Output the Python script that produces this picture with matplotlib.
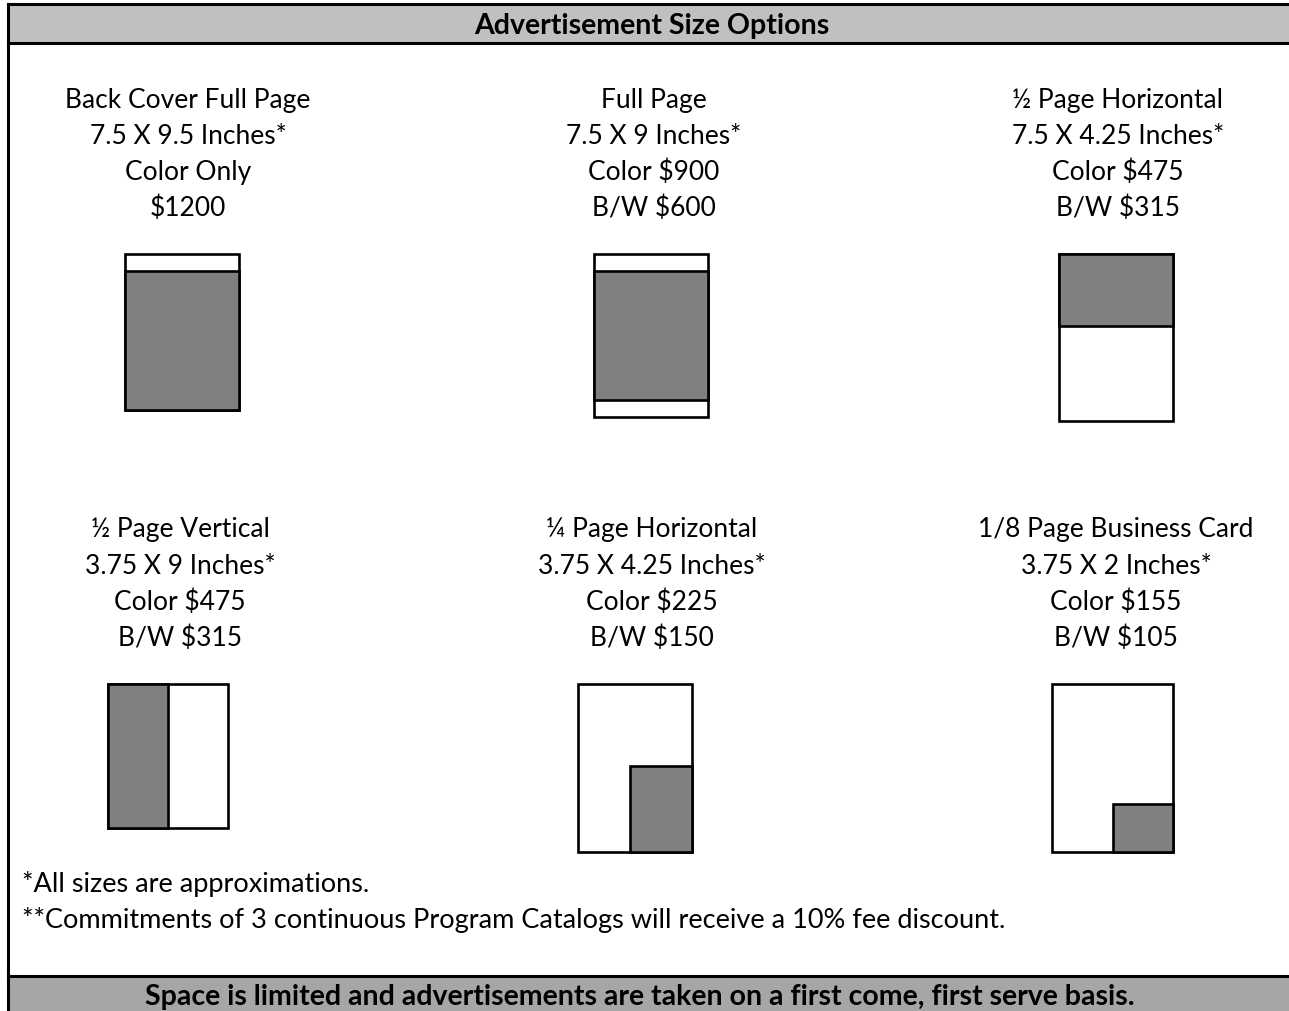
import matplotlib.pyplot as plt
from matplotlib.patches import Rectangle

plt.rcParams['font.family'] = ['Lato', 'DejaVu Sans']

title = 'Advertisement Size Options'
footer = 'Space is limited and advertisements are taken on a first come, first serve basis.'
notes = ['*All sizes are approximations.',
         '**Commitments of 3 continuous Program Catalogs will receive a 10% fee discount.']

# ad options, row by row
names = ['Back Cover Full Page', 'Full Page', '\u00bd Page Horizontal',
         '\u00bd Page Vertical', '\u00bc Page Horizontal', '1/8 Page Business Card']
sizes = ['7.5 X 9.5 Inches*', '7.5 X 9 Inches*', '7.5 X 4.25 Inches*',
         '3.75 X 9 Inches*', '3.75 X 4.25 Inches*', '3.75 X 2 Inches*']
color_price = ['Color Only', 'Color $900', 'Color $475',
               'Color $475', 'Color $225', 'Color $155']
bw_price = ['$1200', 'B/W $600', 'B/W $315',
            'B/W $315', 'B/W $150', 'B/W $105']

# page sketch (x0, y0, x1, y1) and shaded ad area, in picture pixels
pages = [(125, 255, 239, 411), (594, 255, 708, 418), (1059, 255, 1173, 422),
         (108, 685, 228, 829), (578, 685, 692, 853), (1052, 685, 1173, 853)]
ads = [(125, 272, 239, 411), (594, 272, 708, 401), (1059, 255, 1173, 327),
       (108, 685, 168, 829), (630, 767, 692, 853), (1113, 805, 1173, 853)]

W, H = 1289, 1012
fig = plt.figure(figsize=(W / 100, H / 100), dpi=100)
ax = fig.add_axes([0, 0, 1, 1])
ax.set_xlim(0, W)
ax.set_ylim(H, 0)
ax.axis('off')

lw = 2.2
# header and footer bands
ax.add_patch(Rectangle((8, 5), W - 8, 39, facecolor='#c0c0c0', edgecolor='none'))
ax.add_patch(Rectangle((8, 977), W - 8, H - 977, facecolor='#a6a6a6', edgecolor='none'))
ax.plot([8, W], [5, 5], color='black', lw=lw)
ax.plot([8, W], [44, 44], color='black', lw=lw)
ax.plot([8, W], [977, 977], color='black', lw=lw)
ax.plot([8, 8], [5, H], color='black', lw=lw)

ax.text(652, 26, title, ha='center', va='center', fontsize=20.5, fontweight='bold')
ax.text(640, 997, footer, ha='center', va='center', fontsize=20.5, fontweight='bold')
for i, n in enumerate(notes):
    ax.text(22, 884 + 36 * i, n, ha='left', va='center', fontsize=19.5)

col_x = [188, 654, 1118, 180, 652, 1116]
row_y = [100, 100, 100, 530, 530, 530]
for i in range(6):
    lines = [names[i], sizes[i], color_price[i], bw_price[i]]
    for j, s in enumerate(lines):
        ax.text(col_x[i], row_y[i] + 36 * j, s, ha='center', va='center', fontsize=19)
    x0, y0, x1, y1 = pages[i]
    ax.add_patch(Rectangle((x0, y0), x1 - x0, y1 - y0, facecolor='white',
                           edgecolor='black', lw=1.9))
    x0, y0, x1, y1 = ads[i]
    ax.add_patch(Rectangle((x0, y0), x1 - x0, y1 - y0, facecolor='#808080',
                           edgecolor='black', lw=1.9))

fig.savefig('out.png', dpi=100)
